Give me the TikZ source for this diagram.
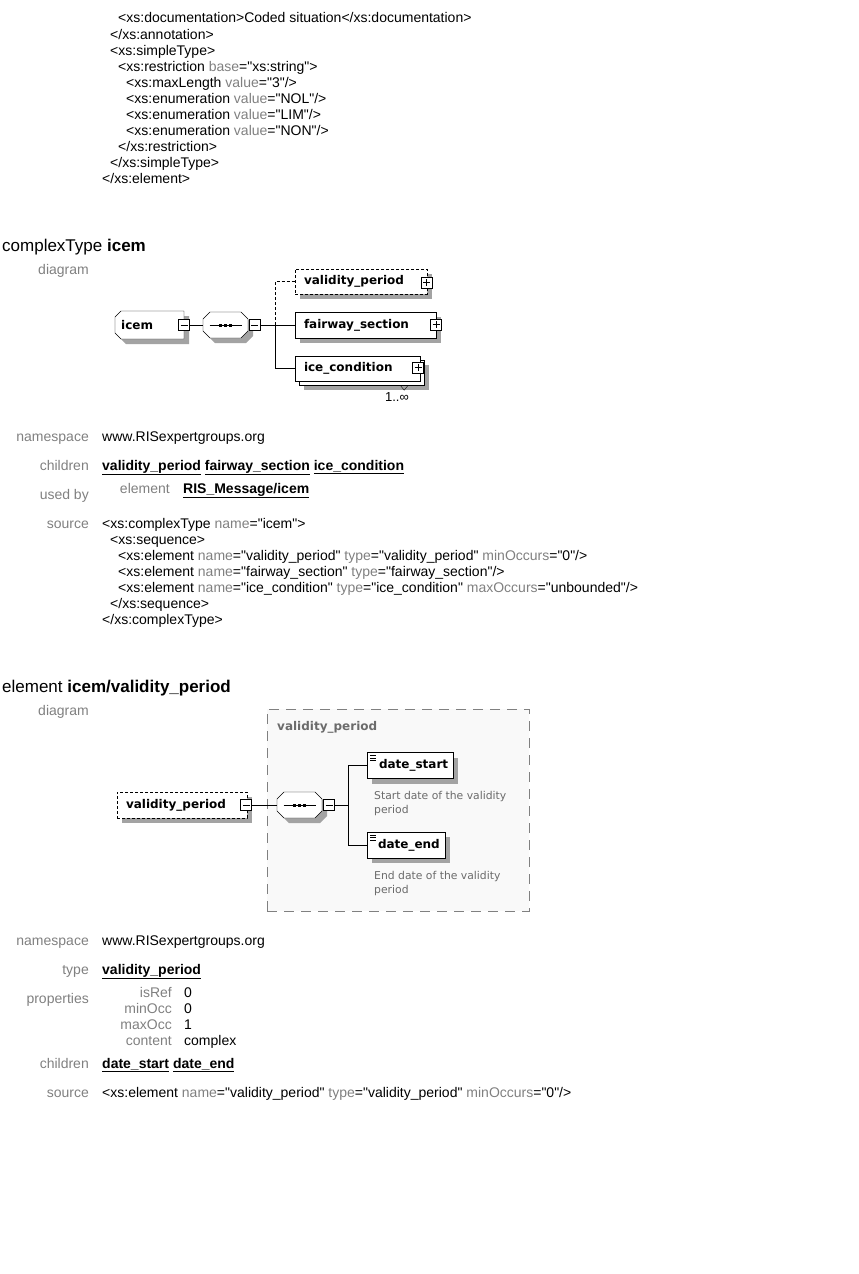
\documentclass[tikz,border=0pt]{standalone}
\usepackage{fontspec}
\setmainfont{Liberation Sans}[Ligatures=TeXOff]
\newfontfamily\xsfont{DejaVu Sans}
\usetikzlibrary{shadows,positioning}
\definecolor{keygray}{gray}{0.5}
\definecolor{descgray}{gray}{0.42}
\definecolor{shadegray}{gray}{0.64}
\definecolor{panelfill}{gray}{0.975}
\newcommand{\att}[1]{\textcolor{keygray}{#1}}
\newcommand{\lnk}[1]{\underline{\textbf{#1}}}

\tikzset{
  seqgrp/.pic={
    \fill[shadegray,shift={(5,5)}] (-22.5,-6) -- (-15.5,-13) -- (15.5,-13) -- (22.5,-6) -- (22.5,6) -- (15.5,13) -- (-15.5,13) -- (-22.5,6) -- cycle;
    \draw[fill=white] (-22.5,-6) -- (-15.5,-13) -- (15.5,-13) -- (22.5,-6) -- (22.5,6) -- (15.5,13) -- (-15.5,13) -- (-22.5,6) -- cycle;
    \draw (-16,0) -- (16,0);
    \foreach \d in {-5,0,5} \fill (\d-1.8,-1.5) rectangle (\d+1.8,1.5);
    \coordinate (-west) at (-22.5,0);
    \coordinate (-east) at (22.5,0);
  },
  cplx/.pic={
    \fill[shadegray,shift={(5,5)}] (-28.5,-14) -- (34.5,-14) -- (34.5,14) -- (-28.5,14) -- (-34.5,8) -- (-34.5,-8) -- cycle;
    \draw[fill=white] (-28.5,-14) -- (34.5,-14) -- (34.5,14) -- (-28.5,14) -- (-34.5,8) -- (-34.5,-8) -- cycle;
    \node[anchor=west,inner sep=0pt,font=\xsfont\bfseries\fontsize{12}{14}\selectfont] (-txt) at (-28.5,0) {#1};
    \coordinate (-east) at (34.5,0);
  }
}

\begin{document}
\begin{tikzpicture}[x=1pt,y=-1pt,font=\fontsize{14}{16}\selectfont,
  code/.style={anchor=base west,inner sep=0pt},
  fld/.style={anchor=base east,inner sep=0pt,text=keygray},
  dshadow/.style={drop shadow={shadow xshift=5pt,shadow yshift=-5pt,fill=shadegray,opacity=1}},
  box/.style={draw,fill=white,inner xsep=9pt,inner ysep=0pt,minimum height=25pt,align=left,font=\xsfont\bfseries\fontsize{12}{14}\selectfont},
  elem/.style={box,dshadow},
  opt/.style={dash pattern=on 3pt off 2pt},
  toggle/.style={draw,fill=white,minimum size=11pt,inner sep=0pt},
  togminus/.style={toggle,path picture={\draw ([xshift=2pt]path picture bounding box.west)--([xshift=-2pt]path picture bounding box.east);}},
  togplus/.style={toggle,path picture={\draw ([xshift=2pt]path picture bounding box.west)--([xshift=-2pt]path picture bounding box.east)
      ([yshift=-2pt]path picture bounding box.north)--([yshift=2pt]path picture bounding box.south);}},
  doc/.style={elem,inner xsep=5pt,minimum height=26pt,path picture={\foreach \k in {3pt,5.5pt,8pt}
      \draw ([xshift=3pt,yshift=-\k]path picture bounding box.north west)--++(6pt,0pt);}},
  desc/.style={anchor=base west,inner sep=0pt,text=descgray,font=\xsfont\fontsize{10.8}{14.5}\selectfont}]

\useasboundingbox (0,0) rectangle (859,1274);

% tail of the previous element
\node[code] (d1) at (118,23) {<xs:documentation>Coded situation</xs:documentation>};
\node[code] (d2) at (110,39) {</xs:annotation>};
\node[code] (d3) at (110,55) {<xs:simpleType>};
\node[code] (d4) at (118,71) {<xs:restriction \att{base}="xs:string">};
\node[code] (d5) at (126,87) {<xs:maxLength \att{value}="3"/>};
\node[code] (d6) at (126,103) {<xs:enumeration \att{value}="NOL"/>};
\node[code] (d7) at (126,119) {<xs:enumeration \att{value}="LIM"/>};
\node[code] (d8) at (126,135) {<xs:enumeration \att{value}="NON"/>};
\node[code] (d9) at (118,151) {</xs:restriction>};
\node[code] (d10) at (110,167) {</xs:simpleType>};
\node[code] (d11) at (102,183) {</xs:element>};

% complexType icem
\node[code,font=\fontsize{17}{20}\selectfont] (t1) at (2,251) {complexType \textbf{icem}};
\node[fld] (dg1) at (89,274) {diagram};

\pic (icem) at (149.5,325) {cplx=icem};
\node[togminus] (icemm) at (184,325) {};
\pic (seqa) at (225.5,325) {seqgrp};
\node[togminus] (seqam) at (254.5,325) {};
\coordinate (ja) at (275,325);
\node[elem,opt,text width=114pt] (vpa) at (361,281.5) {validity\_period};
\node[togplus] (vpap) at (426.5,282.5) {};
\node[elem,text width=123pt,minimum height=26pt] (fs) at (365.5,325) {fairway\_section};
\node[togplus] (fsp) at (436,324.5) {};
\node[elem,minimum width=125pt] (icb) at (361.5,372.5) {};
\node[box,text width=107pt] (ic) at (357.5,368.5) {ice\_condition};
\node[togplus] (icp) at (418,367.5) {};
\draw ([xshift=-24pt]icb.south east) -- ++(4pt,-5pt) -- ++(4pt,5pt);
\node[anchor=base,inner sep=0pt,font=\fontsize{13}{15}\selectfont] (icocc) at (397,401) {1..∞};

\draw (icemm.east) -- (seqa-west);
\draw (seqam.east) -- (ja);
\draw (ja) -- (fs.west);
\draw (ja) |- (ic.west);
\draw[opt] (ja) |- (vpa.west);

\node[fld] (ns1k) at (89,441) {namespace};
\node[code] (ns1) at (102,441) {www.RISexpertgroups.org};
\node[fld] (ch1k) at (89,470) {children};
\node[code] (ch1) at (102,470) {\lnk{validity\_period} \lnk{fairway\_section} \lnk{ice\_condition}};
\node[fld] (ub1k) at (89,499) {used by};
\node[fld] (ub1e) at (170,493) {element};
\node[code] (ub1) at (183,493) {\lnk{RIS\_Message/icem}};
\node[fld] (src1k) at (89,528) {source};
\node[code] (s1) at (102,528) {<xs:complexType \att{name}="icem">};
\node[code] (s2) at (110,544) {<xs:sequence>};
\node[code] (s3) at (118,560) {<xs:element \att{name}="validity\_period" \att{type}="validity\_period" \att{minOccurs}="0"/>};
\node[code] (s4) at (118,576) {<xs:element \att{name}="fairway\_section" \att{type}="fairway\_section"/>};
\node[code] (s5) at (118,592) {<xs:element \att{name}="ice\_condition" \att{type}="ice\_condition" \att{maxOccurs}="unbounded"/>};
\node[code] (s6) at (110,608) {</xs:sequence>};
\node[code] (s7) at (102,624) {</xs:complexType>};

% element icem/validity_period
\node[code,font=\fontsize{17}{20}\selectfont] (t2) at (2,692) {element \textbf{icem/validity\_period}};
\node[fld] (dg2) at (89,715) {diagram};

\node[draw=keygray,dash pattern=on 10pt off 7pt,fill=panelfill,minimum width=262pt,minimum height=202pt] (vpgrp) at (398,810) {};
\node[anchor=west,inner sep=0pt,text=descgray,font=\xsfont\bfseries\fontsize{12}{14}\selectfont] (vpgrptxt) at (277,727) {validity\_period};
\node[elem,opt,text width=112pt,minimum height=26pt] (vpb) at (182,805) {validity\_period};
\node[togminus] (vpbm) at (246,805) {};
\pic (seqb) at (299.5,805) {seqgrp};
\node[togminus] (seqbm) at (329,805) {};
\coordinate (jb) at (348,805);
\node[doc,text width=76pt] (ds) at (410,765.5) {\hspace*{7pt}date\_start};
\node[doc,text width=68pt] (de) at (406,845) {\hspace*{6pt}date\_end};
\node[desc] (dsd1) at (374,799) {Start date of the validity};
\node[desc] (dsd2) at (374,813) {period};
\node[desc] (ded1) at (374,879) {End date of the validity};
\node[desc] (ded2) at (374,893) {period};

\draw (vpbm.east) -- (seqb-west);
\draw (seqbm.east) -- (jb);
\draw (jb) |- (ds.west);
\draw (jb) |- (de.west);

\node[fld] (ns2k) at (89,945) {namespace};
\node[code] (ns2) at (102,945) {www.RISexpertgroups.org};
\node[fld] (ty2k) at (89,974) {type};
\node[code] (ty2) at (102,974) {\lnk{validity\_period}};
\node[fld] (pr2k) at (89,1003) {properties};
\node[fld] (p1k) at (172,997) {isRef};
\node[code] (p1) at (184,997) {0};
\node[fld] (p2k) at (172,1013) {minOcc};
\node[code] (p2) at (184,1013) {0};
\node[fld] (p3k) at (172,1029) {maxOcc};
\node[code] (p3) at (184,1029) {1};
\node[fld] (p4k) at (172,1045) {content};
\node[code] (p4) at (184,1045) {complex};
\node[fld] (ch2k) at (89,1068) {children};
\node[code] (ch2) at (102,1068) {\lnk{date\_start} \lnk{date\_end}};
\node[fld] (src2k) at (89,1097) {source};
\node[code] (src2) at (102,1097) {<xs:element \att{name}="validity\_period" \att{type}="validity\_period" \att{minOccurs}="0"/>};
\end{tikzpicture}
\end{document}
